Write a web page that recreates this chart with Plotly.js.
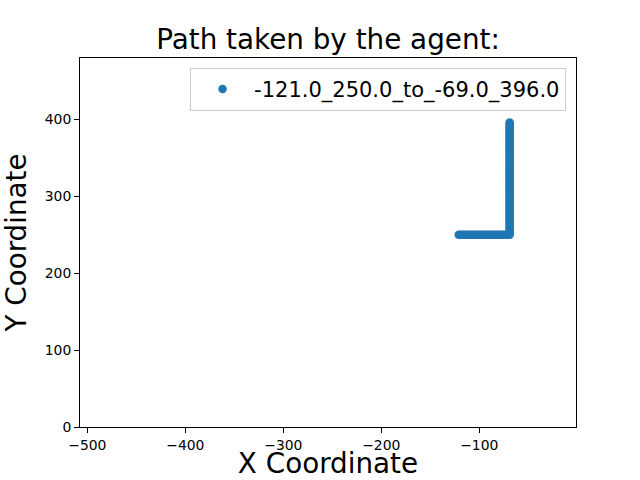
<!DOCTYPE html>
<html>
<head>
<meta charset="utf-8">
<script src="https://cdn.plot.ly/plotly-3.0.1.min.js"></script>
<style>html,body{margin:0;padding:0;background:#fff;}#chart{width:640px;height:480px;}</style>
</head>
<body>
<div id="chart"></div>
<script>
var seriesName = "-121.0_250.0_to_-69.0_396.0";
var pathX = [
  -121,-119,-117,-115,-113,-111,-109,-107,-105,-103,
  -101,-99,-97,-95,-93,-91,-89,-87,-85,-83,
  -81,-79,-77,-75,-73,-71,-69,
  -69,-69,-69,-69,-69,-69,-69,-69,-69,-69,
  -69,-69,-69,-69,-69,-69,-69,-69,-69,-69,
  -69,-69,-69,-69,-69,-69,-69,-69,-69,-69,
  -69,-69,-69,-69,-69,-69,-69,-69,-69,-69,
  -69,-69,-69,-69,-69,-69,-69,-69,-69,-69,
  -69,-69,-69,-69,-69,-69,-69,-69,-69,-69,
  -69,-69,-69,-69,-69,-69,-69,-69,-69,-69,
  -69,-69,-69
];
var pathY = [
  250,250,250,250,250,250,250,250,250,250,
  250,250,250,250,250,250,250,250,250,250,
  250,250,250,250,250,250,250,
  252,254,256,258,260,262,264,266,268,270,
  272,274,276,278,280,282,284,286,288,290,
  292,294,296,298,300,302,304,306,308,310,
  312,314,316,318,320,322,324,326,328,330,
  332,334,336,338,340,342,344,346,348,350,
  352,354,356,358,360,362,364,366,368,370,
  372,374,376,378,380,382,384,386,388,390,
  392,394,396
];
var xTicks = [-500, -400, -300, -200, -100];
var yTicks = [0, 100, 200, 300, 400];
var xTitle = "X Coordinate";
var yTitle = "Y Coordinate";

var font = "DejaVu Sans, sans-serif";
var trace = {
  type: "scatter",
  mode: "markers",
  x: pathX,
  y: pathY,
  name: seriesName,
  showlegend: true,
  marker: {color: "#1f77b4", size: 8.5, line: {width: 0}}
};
var layout = {
  width: 640, height: 480,
  margin: {l: 80, r: 64, t: 58, b: 53, pad: 0},
  paper_bgcolor: "#fff", plot_bgcolor: "#fff",
  font: {family: font, color: "#000"},
  showlegend: true,
  title: {text: "Path taken by the agent:", font: {family: font, size: 27.8, color: "#000"},
          x: 0.5, xref: "paper", xanchor: "center", y: 1 - 39/480, yref: "container", yanchor: "middle"},
  xaxis: {
    range: [-507.5, -1.3], tickvals: xTicks, ticks: "outside", ticklen: 5, tickwidth: 1, tickcolor: "#000",
    showline: true, mirror: true, linecolor: "#000", linewidth: 1, showgrid: false, zeroline: false,
    tickfont: {family: font, size: 13.9, color: "#000"},
    title: {text: xTitle, font: {family: font, size: 27.8, color: "#000"}, standoff: 12}
  },
  yaxis: {
    range: [0, 480], tickvals: yTicks, ticks: "outside", ticklen: 5, tickwidth: 1, tickcolor: "#000",
    showline: true, mirror: true, linecolor: "#000", linewidth: 1, showgrid: false, zeroline: false,
    tickfont: {family: font, size: 13.9, color: "#000"},
    title: {text: yTitle, font: {family: font, size: 27.8, color: "#000"}, standoff: 11}
  },
  legend: {
    x: 0.98, y: 0.973, xanchor: "right", yanchor: "top", xref: "paper", yref: "paper",
    bgcolor: "rgba(255,255,255,0.8)", bordercolor: "#cccccc", borderwidth: 1,
    itemwidth: 53,
    font: {family: font, size: 21, color: "#000"}
  }
};
Plotly.newPlot("chart", [trace], layout, {displayModeBar: false, staticPlot: true});
</script>
</body>
</html>
